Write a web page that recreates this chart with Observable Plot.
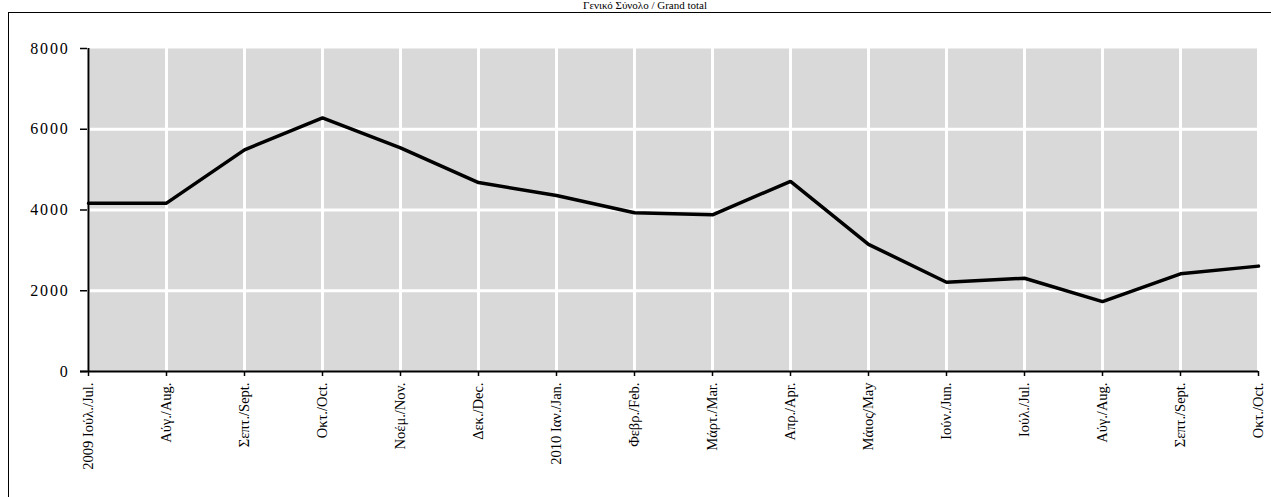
<!DOCTYPE html>
<html>
<head>
<meta charset="utf-8">
<script src="https://cdn.jsdelivr.net/npm/d3@7"></script>
<script src="https://cdn.jsdelivr.net/npm/@observablehq/plot@0.6"></script>
<style>
  html, body { margin: 0; padding: 0; background: white; overflow: hidden; width: 1271px; height: 497px; }
  #frame { position: absolute; left: 8px; top: 12px; width: 1400px; height: 600px; border: 1px solid black; box-sizing: border-box; }
  #title { position: absolute; left: 545px; width: 200px; top: 0px; text-align: center; font: 11px/11px "Liberation Serif", serif; white-space: nowrap; }
  #chart { position: absolute; left: 0; top: 0; }
  #chart g[aria-label="y-axis tick label"] text { letter-spacing: 1.8px; }
</style>
</head>
<body>
<div id="frame"></div>
<div id="title">Γενικό Σύνολο / Grand total</div>
<div id="chart"></div>
<script>
const months = [
  "2009 Ιούλ./Jul.", "Αύγ./Aug.", "Σεπτ./Sept.", "Οκτ./Oct.", "Νοέμ./Nov.", "Δεκ./Dec.",
  "2010 Ιαν./Jan.", "Φεβρ./Feb.", "Μάρτ./Mar.", "Απρ./Apr.", "Μάιος/May", "Ιούν./Jun.",
  "Ιούλ./Jul.", "Αύγ./Aug. ", "Σεπτ./Sept. ", "Οκτ./Oct. "
];
const values = [4170, 4170, 5490, 6280, 5540, 4680, 4360, 3930, 3880, 4710, 3150, 2210, 2310, 1730, 2420, 2610];
const yTicks = [0, 2000, 4000, 6000, 8000];
const innerGrid = [2000, 4000, 6000];

const data = months.map((m, i) => ({month: m, value: values[i]}));

const chart = Plot.plot({
  width: 1271,
  height: 497,
  marginLeft: 87,
  marginRight: 13,
  marginTop: 48,
  marginBottom: 126,
  style: {fontFamily: "'Liberation Serif', serif", background: "transparent", color: "black"},
  x: {type: "point", domain: months, padding: 0, label: null},
  y: {domain: [0, 8000], label: null},
  marks: [
    Plot.frame({fill: "url(#dots)", stroke: null}),
    Plot.gridX(months, {stroke: "white", strokeOpacity: 1, strokeWidth: 3}),
    Plot.gridY(innerGrid, {stroke: "white", strokeOpacity: 1, strokeWidth: 3}),
    Plot.axisY(yTicks, {tickSize: 7, tickPadding: 11, fontSize: 16, tickFormat: d => String(d), strokeWidth: 1.5}),
    Plot.axisX({tickSize: 5, tickPadding: 6, tickRotate: -90, fontSize: 14.5, tickFormat: d => d.trim(), strokeWidth: 1.5}),
    Plot.ruleX([months[0]], {stroke: "black", strokeWidth: 2}),
    Plot.ruleY([0], {stroke: "black", strokeWidth: 2, insetLeft: -7}),
    Plot.lineY(data, {x: "month", y: "value", stroke: "black", strokeWidth: 3.5, strokeLinejoin: "miter"})
  ]
});

const svg = d3.select(chart);
const defs = svg.insert("defs", ":first-child");
const p = defs.append("pattern").attr("id", "dots").attr("patternUnits", "userSpaceOnUse").attr("width", 4).attr("height", 4);
p.append("rect").attr("width", 4).attr("height", 4).attr("fill", "white");
[[0, 0], [2, 0], [1, 2], [3, 2]].forEach(([x, y]) =>
  p.append("rect").attr("x", x).attr("y", y).attr("width", 1).attr("height", 1).attr("fill", "#666"));

document.getElementById("chart").appendChild(chart);
</script>
</body>
</html>
